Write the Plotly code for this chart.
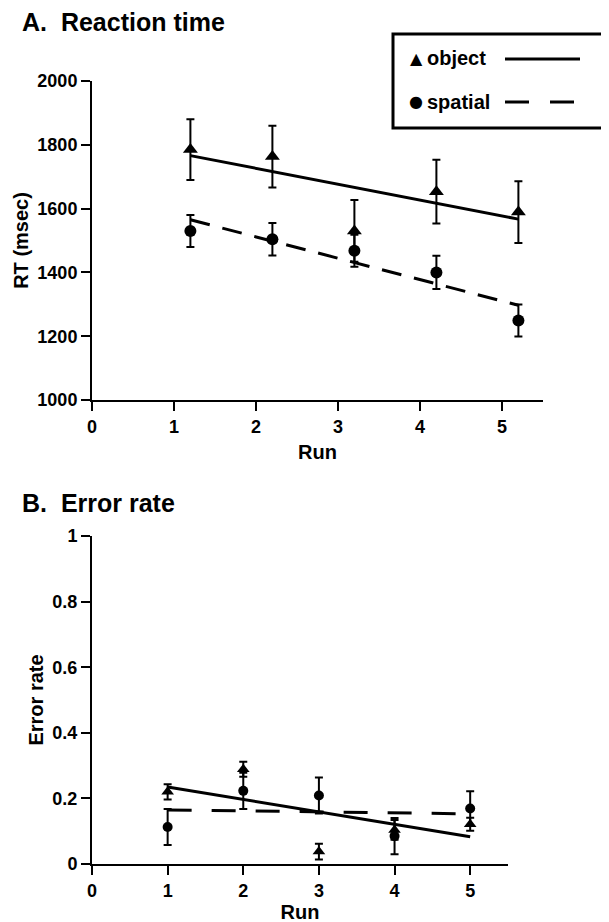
import plotly.graph_objects as go

# ---- Panel A: reaction time ----
runs_rt = [1.2, 2.2, 3.2, 4.2, 5.2]
rt_object = [1785, 1763, 1530, 1653, 1589]
rt_object_err = [95, 97, 97, 100, 97]
rt_spatial = [1530, 1504, 1468, 1400, 1249]
rt_spatial_err = [50, 51, 50, 52, 50]
rt_fit_x = [1.2, 5.2]
rt_fit_object = [1766, 1567]
rt_fit_spatial = [1565, 1297]

# ---- Panel B: error rate ----
runs_er = [1, 2, 3, 4, 5]
er_object = [0.220, 0.289, 0.038, 0.104, 0.121]
er_object_err = [0.023, 0.023, 0.024, 0.03, 0.02]
er_spatial = [0.113, 0.223, 0.209, 0.085, 0.169]
er_spatial_err = [0.055, 0.055, 0.055, 0.055, 0.053]
er_fit_x = [1, 5]
er_fit_object = [0.235, 0.083]
er_fit_spatial = [0.165, 0.153]

W, H = 609, 922
OFF = 8  # page body margin offsets the figure by 8px
FONT = "Liberation Sans"
BLACK = "black"


def px(x):
    return (x - OFF) / W


def py(y):
    return 1 - (y - OFF) / H


fig = go.Figure()

# Panel A
fig.add_trace(go.Scatter(x=rt_fit_x, y=rt_fit_object, mode="lines",
                         line=dict(color=BLACK, width=3), xaxis="x", yaxis="y",
                         showlegend=False, hoverinfo="skip"))
fig.add_trace(go.Scatter(x=rt_fit_x, y=rt_fit_spatial, mode="lines",
                         line=dict(color=BLACK, width=3, dash="20px,13px"),
                         xaxis="x", yaxis="y", showlegend=False, hoverinfo="skip"))
fig.add_trace(go.Scatter(x=runs_rt, y=rt_object, mode="markers", name="object",
                         marker=dict(symbol="triangle-up", size=13, color=BLACK),
                         error_y=dict(type="data", array=rt_object_err, color=BLACK,
                                      thickness=2, width=4),
                         xaxis="x", yaxis="y", showlegend=False))
fig.add_trace(go.Scatter(x=runs_rt, y=rt_spatial, mode="markers", name="spatial",
                         marker=dict(symbol="circle", size=12, color=BLACK),
                         error_y=dict(type="data", array=rt_spatial_err, color=BLACK,
                                      thickness=2, width=4),
                         xaxis="x", yaxis="y", showlegend=False))

# Panel B
fig.add_trace(go.Scatter(x=er_fit_x, y=er_fit_object, mode="lines",
                         line=dict(color=BLACK, width=3), xaxis="x2", yaxis="y2",
                         showlegend=False, hoverinfo="skip"))
fig.add_trace(go.Scatter(x=er_fit_x, y=er_fit_spatial, mode="lines",
                         line=dict(color=BLACK, width=3, dash="24px,20px"),
                         xaxis="x2", yaxis="y2", showlegend=False, hoverinfo="skip"))
fig.add_trace(go.Scatter(x=runs_er, y=er_object, mode="markers", name="object",
                         marker=dict(symbol="triangle-up", size=11, color=BLACK),
                         error_y=dict(type="data", array=er_object_err, color=BLACK,
                                      thickness=2, width=4),
                         xaxis="x2", yaxis="y2", showlegend=False))
fig.add_trace(go.Scatter(x=runs_er, y=er_spatial, mode="markers", name="spatial",
                         marker=dict(symbol="circle", size=10, color=BLACK),
                         error_y=dict(type="data", array=er_spatial_err, color=BLACK,
                                      thickness=2, width=4),
                         xaxis="x2", yaxis="y2", showlegend=False))

tickfont = dict(family=FONT, size=18, color=BLACK, weight="bold")
titlefont = dict(family=FONT, size=20, color=BLACK, weight="bold")
axis_common = dict(showline=True, linewidth=2, linecolor=BLACK, ticks="outside",
                   ticklen=9, tickwidth=2, tickcolor=BLACK, showgrid=False,
                   zeroline=False, tickfont=tickfont, automargin=False)

fig.update_layout(
    width=W, height=H,
    margin=dict(l=0, r=0, t=0, b=0, autoexpand=False),
    paper_bgcolor="white", plot_bgcolor="white",
    xaxis=dict(domain=[px(92), px(543)], range=[0, 5.5], dtick=1, tick0=0,
               anchor="y", title=dict(text="Run", font=titlefont, standoff=9),
               **axis_common),
    yaxis=dict(domain=[py(400), py(81)], range=[1000, 2000], dtick=200,
               anchor="x", title=dict(text="RT (msec)", font=titlefont, standoff=3),
               **axis_common),
    xaxis2=dict(domain=[px(92), px(508)], range=[0, 5.5], dtick=1, tick0=0,
                anchor="y2", title=dict(text="Run", font=titlefont, standoff=2),
                **axis_common),
    yaxis2=dict(domain=[py(864), py(536)], range=[0, 1], dtick=0.2,
                anchor="x2", title=dict(text="Error rate", font=titlefont, standoff=3),
                **axis_common),
)

# Panel titles
headfont = dict(family=FONT, size=25, color=BLACK, weight="bold")
fig.add_annotation(text="A.\u00a0\u00a0Reaction time", xref="paper", yref="paper",
                   x=px(20), y=py(22), xanchor="left", yanchor="middle",
                   showarrow=False, font=headfont)
fig.add_annotation(text="B.\u00a0\u00a0Error rate", xref="paper", yref="paper",
                   x=px(20), y=py(503), xanchor="left", yanchor="middle",
                   showarrow=False, font=headfont)

# Custom legend box
fig.add_shape(type="rect", xref="paper", yref="paper",
              x0=px(393), x1=px(640), y0=py(128), y1=py(34),
              line=dict(color=BLACK, width=3), fillcolor="rgba(0,0,0,0)")
fig.add_shape(type="line", xref="paper", yref="paper",
              x0=px(505), x1=px(580), y0=py(59), y1=py(59),
              line=dict(color=BLACK, width=3))
fig.add_shape(type="line", xref="paper", yref="paper",
              x0=px(505), x1=px(578), y0=py(102), y1=py(102),
              line=dict(color=BLACK, width=3, dash="24px,21px"))
legfont = dict(family=FONT, size=20, color=BLACK, weight="bold")
symfont = dict(family="DejaVu Sans", size=16, color=BLACK)
fig.add_annotation(text="\u25B2", xref="paper", yref="paper", x=px(416), y=py(58),
                   xanchor="center", yanchor="middle", showarrow=False, font=symfont)
fig.add_annotation(text="object", xref="paper", yref="paper", x=px(425), y=py(58),
                   xanchor="left", yanchor="middle", showarrow=False, font=legfont)
fig.add_annotation(text="\u25CF", xref="paper", yref="paper", x=px(416), y=py(102),
                   xanchor="center", yanchor="middle", showarrow=False, font=symfont)
fig.add_annotation(text="spatial", xref="paper", yref="paper", x=px(425), y=py(102),
                   xanchor="left", yanchor="middle", showarrow=False, font=legfont)

fig.write_html("out.html")
